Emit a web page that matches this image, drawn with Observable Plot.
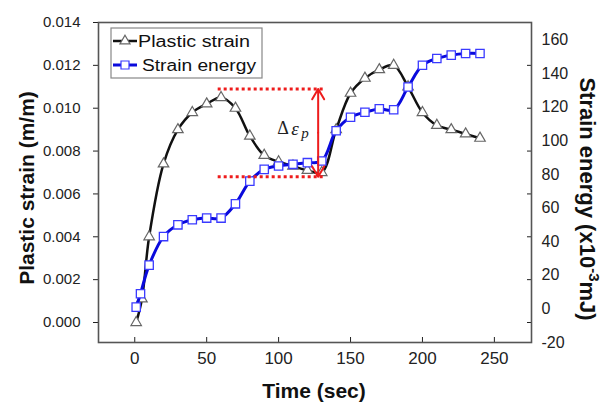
<!DOCTYPE html>
<html><head><meta charset="utf-8">
<script src="https://cdn.jsdelivr.net/npm/d3@7"></script>
<script src="https://cdn.jsdelivr.net/npm/@observablehq/plot@0.6"></script>
<style>
body{margin:0;background:#fff;}
#chart{position:relative;width:607px;height:403px;}
</style></head><body><div id="chart"></div>
<script>
// ---- data ----
const strainTime = [1,5,10,20,30,40,50,60,70,80,90,100,110,120,130,140,150,160,170,180,190,200,210,220,230,240];
const plasticStrain = [0,0.0011,0.0040,0.0074,0.0090,0.0098,0.0102,0.0105,0.0100,0.0087,0.0078,0.0075,0.0073,0.0071,0.0070,0.0090,0.0107,0.0114,0.0118,0.0120,0.0110,0.0098,0.0092,0.0090,0.0088,0.0086];
const energyTime = [1,4,10,20,30,40,50,60,70,80,90,100,110,120,130,140,150,160,170,180,190,200,210,220,230,240];
const strainEnergy = [1,9,26,43,50,53,54,54,62.5,76,83,85,86,87,88,106,114,117,119,118.5,132,145,149,151,152,152];
const xTicks = [0,50,100,150,200,250];
const strainTicks = [0,0.002,0.004,0.006,0.008,0.010,0.012,0.014];
const energyTicks = [-20,0,20,40,60,80,100,120,140,160];
// annotation (Δε_p band)
const bandTime = [58,131];
const bandStrain = [0.0109,0.0068];
const arrowTime = [127.5];
const bandLabel = [{t:110, s:0.00905}];

// mapping of energy (x10^-3 mJ) onto the left strain axis
const eA = 7.84e-5, eB = 0.000639;
const toStrain = e => eB + eA*e;
const fromStrain = s => Math.round((s - eB)/eA);

const strainData = strainTime.map((t,i)=>({t, v: plasticStrain[i]}));
const energyData = energyTime.map((t,i)=>({t, v: toStrain(strainEnergy[i])}));
const arrowMid = (bandStrain[0]+bandStrain[1])/2;

const FONT = "Liberation Sans, Arial, Helvetica, sans-serif";
const RED = "#ee1c1c";

const plot = Plot.plot({
  width:607, height:403,
  marginLeft:98, marginRight:76, marginTop:22, marginBottom:61,
  x:{domain:[-25.2,275.8]},
  y:{domain:[-0.000933,0.014]},
  style:{fontFamily:FONT, color:"#222", background:"#fff"},
  marks:[
    Plot.axisY({anchor:"left", ticks:strainTicks, tickFormat:d=>d.toFixed(3), tickSize:5, tickPadding:13, fontSize:15, label:null}),
    Plot.axisY({anchor:"right", ticks:strainTicks, tickSize:5, dx:-5, tickFormat:()=>"", label:null}),
    Plot.axisY({anchor:"right", ticks:energyTicks.map(toStrain), tickFormat:d=>String(fromStrain(d)), tickSize:0, tickPadding:10, fontSize:16, label:null}),
    Plot.axisX({ticks:xTicks, tickSize:5, dy:-5, tickFormat:()=>"", label:null}),
    Plot.axisX({ticks:xTicks, tickSize:0, tickPadding:9, fontSize:17, label:null}),
    Plot.frame({stroke:"#555", strokeWidth:1.6}),
    Plot.line(strainData, {x:"t", y:"v", stroke:"#111", strokeWidth:2.5, curve:"catmull-rom"}),
    Plot.dot(strainData, {x:"t", y:"v", symbol:"triangle", r:3.9, fill:"#fff", stroke:"#666", strokeWidth:1.2}),
    Plot.line(energyData, {x:"t", y:"v", stroke:"#0a0adc", strokeWidth:3, curve:"catmull-rom"}),
    Plot.dot(energyData, {x:"t", y:"v", symbol:"square", r:4.7, fill:"#fff", stroke:"#3a3aff", strokeWidth:1.3}),
    Plot.ruleY(bandStrain, {y:d=>d, x1:bandTime[0], x2:bandTime[1], stroke:RED, strokeWidth:3, strokeDasharray:"3,3"}),
    Plot.arrow(arrowTime, {x1:d=>d, x2:d=>d, y1:arrowMid, y2:bandStrain[0], stroke:RED, strokeWidth:2, headLength:9}),
    Plot.arrow(arrowTime, {x1:d=>d, x2:d=>d, y1:arrowMid, y2:bandStrain[1], stroke:RED, strokeWidth:2, headLength:9}),
    Plot.text(bandLabel, {x:"t", y:"s", text:()=>"Δ", fontFamily:"Liberation Serif, DejaVu Serif, serif", fontSize:18, fill:"#222", dx:-10}),
    Plot.text(bandLabel, {x:"t", y:"s", text:()=>"ε", fontFamily:"Liberation Serif, DejaVu Serif, serif", fontStyle:"italic", fontSize:19, fill:"#222", dx:2}),
    Plot.text(bandLabel, {x:"t", y:"s", text:()=>"p", fontFamily:"Liberation Serif, DejaVu Serif, serif", fontStyle:"italic", fontSize:15, fill:"#222", dx:12, dy:5})
  ]
});

document.getElementById("chart").appendChild(plot);

// ---- titles and legend ----
const svg = d3.select(plot);
svg.append("text").attr("x",314).attr("y",398).attr("text-anchor","middle")
  .attr("font-family",FONT).attr("font-weight","bold").attr("font-size",21).attr("fill","#111")
  .text("Time (sec)");
svg.append("text").attr("transform","translate(34,188) rotate(-90)").attr("text-anchor","middle")
  .attr("font-family",FONT).attr("font-weight","bold").attr("font-size",21).attr("fill","#111")
  .text("Plastic strain (m/m)");
const rt = svg.append("text").attr("transform","translate(580,199) rotate(90)").attr("text-anchor","middle")
  .attr("font-family",FONT).attr("font-weight","bold").attr("font-size",22).attr("fill","#111");
rt.append("tspan").text("Strain energy (x10");
rt.append("tspan").attr("font-size",15).attr("dy",-9).text("-3");
rt.append("tspan").attr("dy",9).text("mJ)");

const lg = svg.append("g").attr("text-anchor","start");
lg.append("rect").attr("x",111).attr("y",28).attr("width",151).attr("height",50)
  .attr("fill","#fff").attr("stroke","#888").attr("stroke-width",1.2);
const legendItems = [
  {name:"Plastic strain", y:41, stroke:"#111", sym:d3.symbolTriangle, size:44, mstroke:"#666", tx:138, tl:112},
  {name:"Strain energy", y:65, stroke:"#0a0adc", sym:d3.symbolSquare, size:64, mstroke:"#3a3aff", tx:142, tl:114}
];
legendItems.forEach(it=>{
  lg.append("line").attr("x1",113).attr("x2",137).attr("y1",it.y).attr("y2",it.y)
    .attr("stroke",it.stroke).attr("stroke-width",it.stroke==="#111"?2.5:3);
  lg.append("path").attr("d",d3.symbol(it.sym,it.size)()).attr("transform",`translate(125,${it.y})`)
    .attr("fill","#fff").attr("stroke",it.mstroke).attr("stroke-width",1.2);
  lg.append("text").attr("x",it.tx).attr("y",it.y+6).attr("text-anchor","start").attr("font-family",FONT).attr("font-size",16)
    .attr("fill","#111").attr("textLength",it.tl).attr("lengthAdjust","spacingAndGlyphs").text(it.name);
});
</script>
</body></html>
